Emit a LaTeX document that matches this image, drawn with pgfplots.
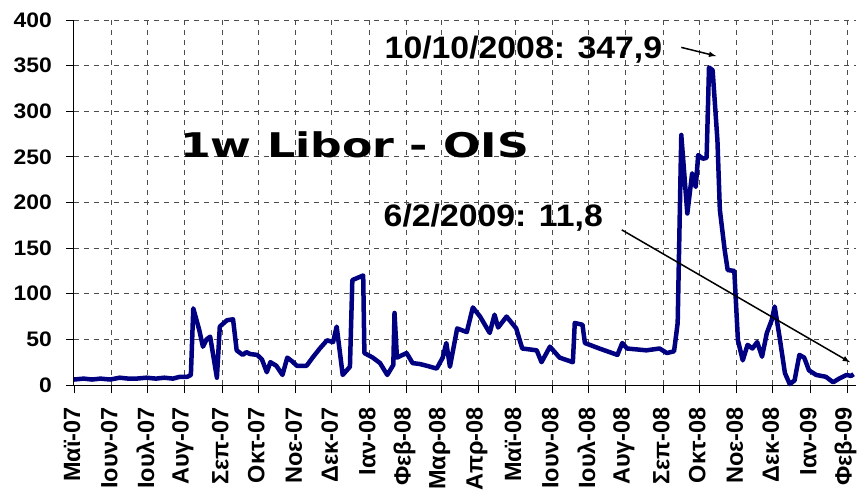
\documentclass[border=0pt]{standalone}
\usepackage{pgfplots}
\pgfplotsset{compat=1.18}
\usepackage{fontspec}
\setmainfont{Liberation Sans}
\newfontfamily\hfont[FakeStretch=1.09]{Liberation Sans Bold}
\newfontfamily\xfont{Liberation Sans Bold}
\newfontfamily\tfont[FakeStretch=1.3]{DejaVu Sans Bold}
\definecolor{navyline}{HTML}{000080}
\begin{document}
\begin{tikzpicture}
\begin{axis}[
  name=ax,
  scale only axis,
  width=782bp, height=365bp,
  xmin=0, xmax=649, ymin=0, ymax=400,
  axis x line=bottom, axis y line=left,
  axis line style={-, black, line width=1bp},
  tick align=outside,
  major tick length=8bp,
  tick style={black, line width=0.8bp},
  ytick={0,50,...,400},
  xtick={0,31,61,92,123,153,184,214,245,276,305,336,366,397,427,458,489,519,550,580,611,642},
  xticklabels={Μαϊ-07,Ιουν-07,Ιουλ-07,Αυγ-07,Σεπ-07,Οκτ-07,Νοε-07,Δεκ-07,Ιαν-08,Φεβ-08,Μαρ-08,Απρ-08,Μαϊ-08,Ιουν-08,Ιουλ-08,Αυγ-08,Σεπ-08,Οκτ-08,Νοε-08,Δεκ-08,Ιαν-09,Φεβ-09},
  x tick label style={xshift=-2bp, rotate=90, anchor=east, font=\xfont\fontsize{23.5bp}{25bp}\selectfont, inner xsep=14bp, inner ysep=1bp},
  yticklabel={\hfont\fontsize{21bp}{23bp}\selectfont\pgfmathprintnumber{\tick}},
  y tick label style={inner sep=3bp, xshift=-11bp},
  /pgf/number format/assume math mode=true,
  xmajorgrids, ymajorgrids,
  major grid style={dash pattern=on 5bp off 5bp, line width=1bp, black!70},
  clip=false,
]
\addplot[navyline, line width=4.5bp, line join=round] coordinates {
(0,6)(8,7)(15,6)(22,7)(30,6)(38,8)(45,7)(52,7)(60,8)(68,7)(75,8)(82,7)(88,9)(94,9)(97,11)
(99,84)(104,60)(107,42)(110,50)(113,53)(118.6,8)(121,64)(127,71)(132,72)(135,38)(140,33)
(143,36)(146,34)(152,33)(156,28)(160,14)(163,25)(168,21)(173,11)(177,30)(181,26)(185,21)
(193,21)(198,30)(204,40)(210,49)(215,47)(218,64)(223,11)(229,20)(231,115)(240,120)(241,35)
(248,30)(254,24)(260,11)(265,22)(266,79)(268,30)(276,35)(281,24)(287,23)(293,21)(301,18)
(306,30)(309,46)(312,20)(318,62)(326,58)(331,85)(337,75)(345,57)(349,77)(352,63)(359,75)
(367,62)(372,40)(384,38)(388,25)(395,42)(403,30)(414,25)(415.6,68)(422,66)(424,46)(436,40)
(451,33)(455,46)(459,40)(475,38)(486,40)(492,35)(498,37)(501,68)(504,274)(509,188)(513,232)
(516,217)(518,252)(522,248)(525,249)(527,348)(530,345)(534,268)(536,192)(540,148)(542.5,126)
(548,125)(551,49)(555,27)(559,44)(563,40)(567,47)(571,31)(575,57)(579,71)(581.5,86)(585.5,53)
(590,13)(594,1)(598,5)(602,33)(606,30)(610,16)(616,11)(624,9)(630,3)(635,7)(641,11)(645,10)(647,11.8)
};
\node[font=\tfont\fontsize{34bp}{36bp}\selectfont] at (axis cs:233,263) {1w Libor - OIS};
\node[font=\hfont\fontsize{31bp}{33bp}\selectfont] at (axis cs:373,368) {10/10/2008: 347,9};
\node[font=\hfont\fontsize{31bp}{33bp}\selectfont] at (axis cs:348,183) {6/2/2009: 11,8};
\draw[-latex, line width=1.5bp] (axis cs:504,370) -- (axis cs:533,360.5);
\draw[-latex, line width=1.5bp] (axis cs:454.6,170) -- (axis cs:644,25);
\end{axis}
\pgfresetboundingbox
\path (ax.south west) ++(-74bp,-112bp) rectangle ++(857bp,497bp);
\end{tikzpicture}
\end{document}
